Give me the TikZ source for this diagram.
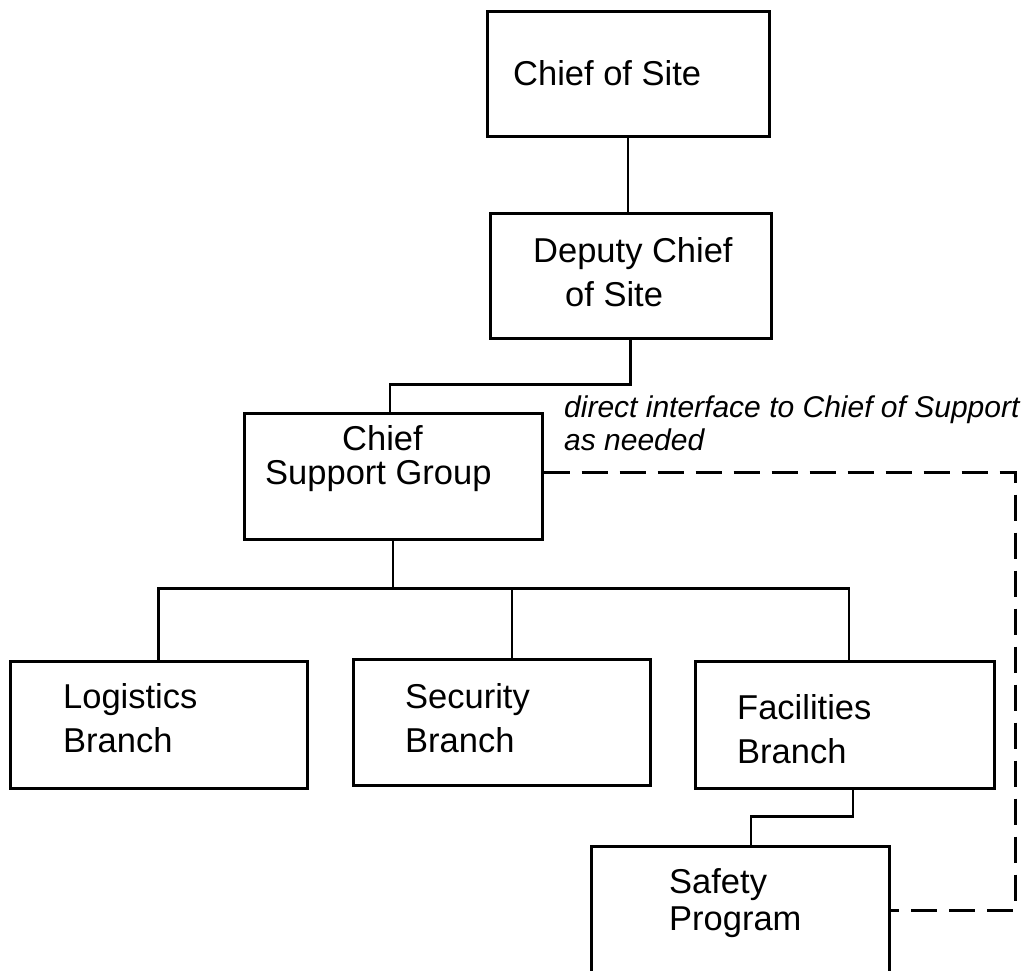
\documentclass[tikz,border=0pt]{standalone}
\usepackage{fontspec}
\setmainfont{Liberation Sans}
\begin{document}
\begin{tikzpicture}[x=1pt,y=-1pt,
  orgbox/.style={draw=black,line width=3pt,rectangle,inner sep=0pt},
  lbl/.style={anchor=base west,inner sep=0pt,font=\fontsize{34.5}{40}\selectfont},
  note/.style={anchor=base west,inner sep=0pt,font=\fontsize{30}{34}\selectfont\itshape},
  conn/.style={draw=black,line width=2.6pt},
  dashconn/.style={draw=black,line width=3pt,dash pattern=on 26pt off 12pt}]
\clip (0,0) rectangle (1034,970);
\fill[white] (0,0) rectangle (1034,970);
% boxes
\node[orgbox,minimum width=282pt,minimum height=125pt] (cos) at (628,73.5) {};
\node[orgbox,minimum width=281pt,minimum height=125pt] (dcs) at (630.5,275.5) {};
\node[orgbox,minimum width=298pt,minimum height=126pt] (csg) at (393,476) {};
\node[orgbox,minimum width=297pt,minimum height=127pt] (log) at (158.5,724.5) {};
\node[orgbox,minimum width=297pt,minimum height=126pt] (sec) at (501.5,722) {};
\node[orgbox,minimum width=299pt,minimum height=127pt] (fac) at (844.5,724.5) {};
\node[orgbox,minimum width=298pt,minimum height=132pt] (saf) at (740,912) {};
% texts
\node[lbl] (cost) at (513,85) {Chief of Site};
\node[lbl] (dcst1) at (533,262) {Deputy Chief};
\node[lbl] (dcst2) at (565,306) {of Site};
\node[lbl] (csgt1) at (342,450) {Chief};
\node[lbl] (csgt2) at (265,484) {Support Group};
\node[lbl] (logt1) at (63,708) {Logistics};
\node[lbl] (logt2) at (63,752) {Branch};
\node[lbl] (sect1) at (405,708) {Security};
\node[lbl] (sect2) at (405,752) {Branch};
\node[lbl] (fact1) at (737,719) {Facilities};
\node[lbl] (fact2) at (737,763) {Branch};
\node[lbl] (saft1) at (669,893) {Safety};
\node[lbl] (saft2) at (669,930) {Program};
\node[note] (note1) at (564,417) {direct interface to Chief of Support};
\node[note] (note2) at (564,450) {as needed};
% connectors
\draw[conn] (cos.south) -- (cos.south |- dcs.north);
\draw[conn] (dcs.south) -- ++(0,45) -| ([xshift=-3pt]csg.north);
\draw[conn] (csg.south) -- ++(0,48) coordinate (bus);
\draw[conn] (log.north) -- (log.north |- bus) -| ([xshift=4.5pt]fac.north);
\draw[conn] ([xshift=10.5pt]sec.north) -- ([xshift=10.5pt]sec.north |- bus);
\draw[conn] ([xshift=8.5pt]fac.south) -- ++(0,27) -| ([xshift=11pt]saf.north);
\coordinate (dcorner) at (1015,910);
\draw[dashconn] ([yshift=4pt]csg.east) -| (dcorner) -- (saf.east |- dcorner);
\end{tikzpicture}
\end{document}
